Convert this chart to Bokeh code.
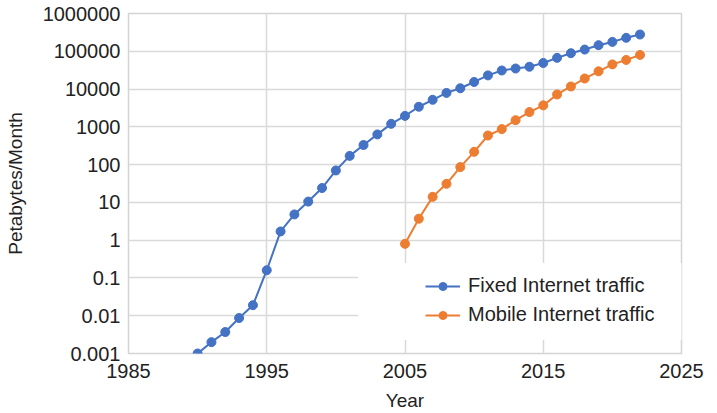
from bokeh.plotting import figure
from bokeh.models import FixedTicker, CustomJSTickFormatter, Legend, LegendItem, Range1d, BoxAnnotation
from bokeh.embed import file_html
from bokeh.resources import INLINE

fixed_years = list(range(1990, 2023))
fixed_traffic = [0.001, 0.002, 0.0037, 0.0087, 0.019, 0.16, 1.7, 4.8, 10.5, 24, 70, 170, 330, 630,
                 1200, 1950, 3400, 5200, 7900, 10500, 15400, 23000, 31000, 35000, 39000, 49000,
                 67000, 89000, 111000, 145000, 177000, 227000, 278000]
mobile_years = list(range(2005, 2023))
mobile_traffic = [0.8, 3.7, 14, 31, 86, 218, 590, 870, 1500, 2460, 3700, 7200, 11700, 19000,
                  29500, 45000, 59000, 80000]
x_ticks = [1985, 1995, 2005, 2015, 2025]
y_ticks = [0.001, 0.01, 0.1, 1, 10, 100, 1000, 10000, 100000, 1000000]

BLUE = "#4472C4"
ORANGE = "#ED7D31"
FONT = "Liberation Sans"

p = figure(width=710, height=413, y_axis_type="log", output_backend="svg", toolbar_location=None,
           x_range=Range1d(1985, 2025), y_range=Range1d(0.001, 1000000),
           min_border_left=128, min_border_right=29, min_border_top=13, min_border_bottom=60)

p.outline_line_color = "#d4d4d4"
p.outline_line_width = 1.5

# white legend backdrop (interrupts grid lines like the reference)
p.add_layout(BoxAnnotation(left=2001.6, right=2026, bottom=0.0023, top=0.25,
                           fill_color="white", fill_alpha=1.0, line_color=None, level="underlay"))

fl = p.line(fixed_years, fixed_traffic, line_color=BLUE, line_width=2)
fc = p.scatter(fixed_years, fixed_traffic, size=9, fill_color=BLUE, line_color=BLUE)
ml = p.line(mobile_years, mobile_traffic, line_color=ORANGE, line_width=2)
mc = p.scatter(mobile_years, mobile_traffic, size=9, fill_color=ORANGE, line_color=ORANGE)

p.xaxis.ticker = FixedTicker(ticks=x_ticks)
p.yaxis.ticker = FixedTicker(ticks=y_ticks)
p.yaxis.formatter = CustomJSTickFormatter(code="""
    if (tick >= 1) { return Math.round(tick).toString(); }
    return parseFloat(tick.toPrecision(1)).toString();
""")
for ax in (p.xaxis, p.yaxis):
    ax.axis_line_color = None
    ax.major_tick_line_color = None
    ax.minor_tick_line_color = None
    ax.major_label_text_font = FONT
    ax.major_label_text_font_size = "20px"
    ax.major_label_text_color = "#222222"
    ax.axis_label_text_font = FONT
    ax.axis_label_text_font_size = "19px"
    ax.axis_label_text_font_style = "normal"
    ax.axis_label_text_color = "#222222"

p.xaxis.axis_label = "Year"
p.yaxis.axis_label = "Petabytes/Month"
p.xaxis.major_label_standoff = 4
p.yaxis.major_label_standoff = 2
p.xaxis.axis_label_standoff = 9
p.yaxis.axis_label_standoff = 14

p.xgrid.grid_line_color = "#d9d9d9"
p.ygrid.grid_line_color = "#d9d9d9"
p.xgrid.grid_line_width = 1.5
p.ygrid.grid_line_width = 1.5

legend = Legend(items=[
    LegendItem(label="Fixed Internet traffic", renderers=[fl, fc]),
    LegendItem(label="Mobile Internet traffic", renderers=[ml, mc]),
], location=(297, 27))
legend.background_fill_color = "white"
legend.background_fill_alpha = 1.0
legend.border_line_color = None
legend.label_text_font = FONT
legend.label_text_font_size = "20px"
legend.label_text_color = "#222222"
legend.glyph_width = 35
legend.label_standoff = 8
legend.padding = 12
legend.spacing = 6
legend.margin = 0
p.add_layout(legend, "center")

open("out.html", "w").write(file_html(p, INLINE))
